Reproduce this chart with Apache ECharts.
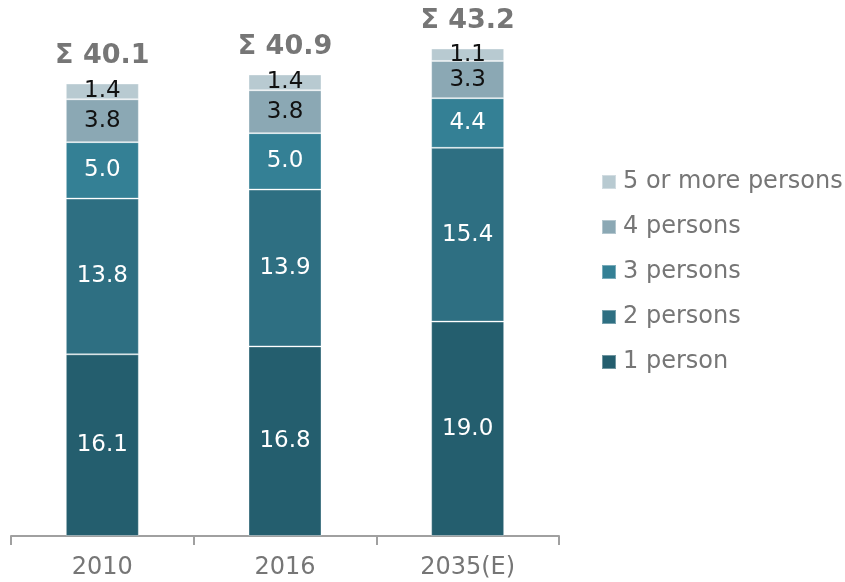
<!DOCTYPE html>
<html>
<head>
<meta charset="utf-8">
<title>Households by size</title>
<script src="https://cdn.jsdelivr.net/npm/echarts@6/dist/echarts.min.js"></script>
<style>
  html, body { margin: 0; padding: 0; background: #fff; }
  #chart { width: 845px; height: 582px; }
</style>
</head>
<body>
<div id="chart"></div>
<script>
var years = ['2010', '2016', '2035(E)'];
var onePerson = [16.1, 16.8, 19.0];
var twoPersons = [13.8, 13.9, 15.4];
var threePersons = [5.0, 5.0, 4.4];
var fourPersons = [3.8, 3.8, 3.3];
var fivePlus = [1.4, 1.4, 1.1];
var totals = [40.1, 40.9, 43.2];

var names = ['1 person', '2 persons', '3 persons', '4 persons', '5 or more persons'];
var colors = ['#245e6e', '#2e6f82', '#348095', '#8ba8b4', '#b8cad1'];
var labelColors = ['#fff', '#fff', '#fff', '#111', '#111'];
var values = [onePerson, twoPersons, threePersons, fourPersons, fivePlus];

var chart = echarts.init(document.getElementById('chart'));

var series = [];
for (var i = 0; i < names.length; i++) {
    series.push({
        name: names[i],
        type: 'bar',
        stack: 'total',
        barWidth: 73,
        data: values[i],
        itemStyle: {
            color: colors[i],
            borderColor: 'rgba(255,255,255,0.35)',
            borderWidth: 1
        },
        label: {
            show: true,
            position: 'inside',
            color: labelColors[i],
            fontSize: 23,
            fontFamily: 'DejaVu Sans',
            formatter: function (p) { return p.value.toFixed(1); }
        }
    });
}
// sum label on top of each stack
series.push({
    name: 'sum',
    type: 'bar',
    stack: 'total',
    barWidth: 73,
    data: totals.map(function () { return 0; }),
    itemStyle: { color: 'transparent' },
    label: {
        show: true,
        position: 'top',
        distance: 14,
        color: '#767676',
        fontSize: 27,
        fontWeight: 'bold',
        fontFamily: 'DejaVu Sans',
        formatter: function (p) { return 'Σ ' + totals[p.dataIndex].toFixed(1); }
    }
});

var option = {
    animation: false,
    color: colors,
    grid: { left: 11, right: 286, top: 0, bottom: 46 },
    legend: {
        orient: 'vertical',
        left: 601,
        top: 170,
        padding: 0,
        itemWidth: 14,
        itemHeight: 14,
        itemGap: 21,
        icon: 'rect',
        data: names.slice().reverse(),
        textStyle: { color: '#767676', fontSize: 24, fontFamily: 'DejaVu Sans', padding: [0, 0, 0, 2] }
    },
    xAxis: {
        type: 'category',
        data: years,
        axisLine: { lineStyle: { color: '#a0a0a0', width: 2 } },
        axisTick: { show: true, length: 9, lineStyle: { color: '#a0a0a0', width: 2 } },
        axisLabel: { color: '#767676', fontSize: 24, fontFamily: 'DejaVu Sans', margin: 20 }
    },
    yAxis: {
        type: 'value',
        min: 0,
        max: 47.5,
        show: false,
        splitLine: { show: false }
    },
    series: series
};
chart.setOption(option);
</script>
</body>
</html>
